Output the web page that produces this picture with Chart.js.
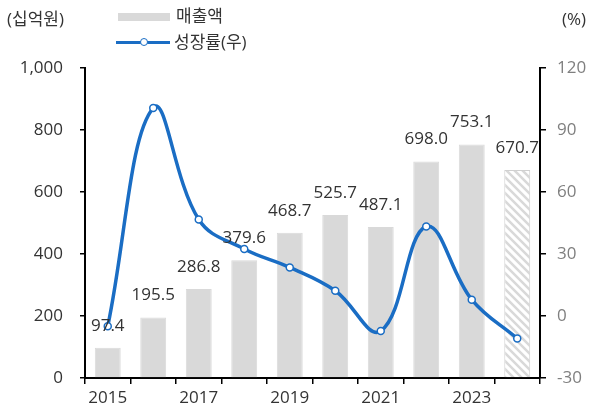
<!DOCTYPE html>
<html>
<head>
<meta charset="utf-8">
<script src="https://cdn.jsdelivr.net/npm/chart.js@4"></script>
<style>
  body { margin: 0; background: #fff; font-family: "Open Sans", "Noto Sans CJK KR", sans-serif; color: #333; }
  #wrap { position: relative; width: 594px; height: 412px; }
  canvas { position: absolute; left: 0; top: 0; }
  .txt { position: absolute; font-size: 17px; line-height: 20px; white-space: nowrap; }
  .sw { position: absolute; }
</style>
</head>
<body>
<div id="wrap">
  <canvas id="chart" width="594" height="412"></canvas>
  <div class="txt" style="left:7px;top:9px;">(십억원)</div>
  <div class="txt" style="left:562px;top:9px;">(%)</div>
  <div class="sw" style="left:118px;top:13px;width:52px;height:8px;background:#d9d9d9;"></div>
  <div class="txt" style="left:176px;top:6px;">매출액</div>
  <div class="sw" style="left:116px;top:41px;width:54px;height:3px;background:#1a6dc4;"></div>
  <div class="sw" style="left:140px;top:38px;width:6px;height:6px;border:1.5px solid #1a6dc4;border-radius:50%;background:#fff;"></div>
  <div class="txt" style="left:174px;top:32px;">성장률(우)</div>
</div>
<script>
  const years = ["2015", "2016", "2017", "2018", "2019", "2020", "2021", "2022", "2023", "2024"];
  const sales = [97.4, 195.5, 286.8, 379.6, 468.7, 525.7, 487.1, 698.0, 753.1, 670.7];
  const growth = [-5.0, 100.7, 46.7, 32.4, 23.5, 12.2, -7.3, 43.3, 7.9, -10.9];
  const leftTicks = [0, 200, 400, 600, 800, 1000];
  const rightTicks = [-30, 0, 30, 60, 90, 120];

  // hatch for the estimate bar
  const pc = document.createElement("canvas");
  pc.width = 8;
  pc.height = 8;
  const p = pc.getContext("2d");
  p.fillStyle = "#ffffff";
  p.fillRect(0, 0, 8, 8);
  p.strokeStyle = "#d9d9d9";
  p.lineWidth = 2.5;
  p.beginPath();
  p.moveTo(-2, -2); p.lineTo(10, 10);
  p.moveTo(-2, 6); p.lineTo(2, 10);
  p.moveTo(6, -2); p.lineTo(10, 2);
  p.stroke();
  const ctx = document.getElementById("chart").getContext("2d");
  const hatch = ctx.createPattern(pc, "repeat");

  const barColors = sales.map((v, i) => (i === sales.length - 1 ? hatch : "#d9d9d9"));
  const barBorders = sales.map((v, i) => (i === sales.length - 1 ? "#d0d0d0" : "#d9d9d9"));

  const barLabels = {
    id: "barLabels",
    afterDatasetsDraw(chart) {
      const c = chart.ctx;
      const meta = chart.getDatasetMeta(0);
      c.save();
      c.font = '17px "Open Sans", "Noto Sans CJK KR", sans-serif';
      c.fillStyle = "#333";
      c.textAlign = "center";
      c.textBaseline = "middle";
      meta.data.forEach((bar, i) => {
        c.fillText(sales[i].toFixed(1), bar.x, bar.y - 22);
      });
      c.restore();
    },
  };

  const tickFont = { family: '"Open Sans", "Noto Sans CJK KR", sans-serif', size: 17 };

  new Chart(ctx, {
    type: "bar",
    data: {
      labels: years,
      datasets: [
        {
          label: "매출액",
          data: sales,
          backgroundColor: barColors,
          borderColor: barBorders,
          borderWidth: 1,
          categoryPercentage: 1,
          barPercentage: 0.57,
          yAxisID: "y",
          order: 2,
        },
        {
          type: "line",
          label: "성장률(우)",
          data: growth,
          yAxisID: "y1",
          borderColor: "#1a6dc4",
          borderWidth: 3.5,
          tension: 0.4,
          pointRadius: 3.5,
          pointBackgroundColor: "#ffffff",
          pointBorderColor: "#1a6dc4",
          pointBorderWidth: 1.5,
          order: 1,
        },
      ],
    },
    options: {
      responsive: false,
      animation: false,
      events: [],
      layout: { padding: { top: 68, left: 0, right: 0, bottom: 0 } },
      plugins: { legend: { display: false }, tooltip: { enabled: false } },
      scales: {
        x: {
          offset: true,
          grid: { offset: true, drawOnChartArea: false, color: "#000", tickLength: 6, lineWidth: 1.5 },
          border: { color: "#000", width: 2 },
          ticks: {
            autoSkip: false,
            maxRotation: 0,
            color: "#333",
            font: tickFont,
            padding: 4,
            callback: function (v, i) {
              return i % 2 === 0 ? years[i] : "";
            },
          },
          afterFit: (s) => { s.height = 34; },
        },
        y: {
          position: "left",
          min: 0,
          max: 1000,
          afterBuildTicks: (s) => { s.ticks = leftTicks.map((v) => ({ value: v })); },
          grid: { drawOnChartArea: false, color: "#000", tickLength: 5, lineWidth: 1.5 },
          border: { color: "#000", width: 2 },
          ticks: {
            color: "#333",
            font: tickFont,
            padding: 17,
            callback: (v) => v.toLocaleString("en-US"),
          },
          afterFit: (s) => { s.width = 85; },
        },
        y1: {
          position: "right",
          min: -30,
          max: 120,
          afterBuildTicks: (s) => { s.ticks = rightTicks.map((v) => ({ value: v })); },
          grid: { drawOnChartArea: false, color: "#000", tickLength: 6, lineWidth: 1.5 },
          border: { color: "#000", width: 2 },
          ticks: { color: "#7f7f7f", font: tickFont, padding: 11 },
          afterFit: (s) => { s.width = 54; },
        },
      },
    },
    plugins: [barLabels],
  });
</script>
</body>
</html>
